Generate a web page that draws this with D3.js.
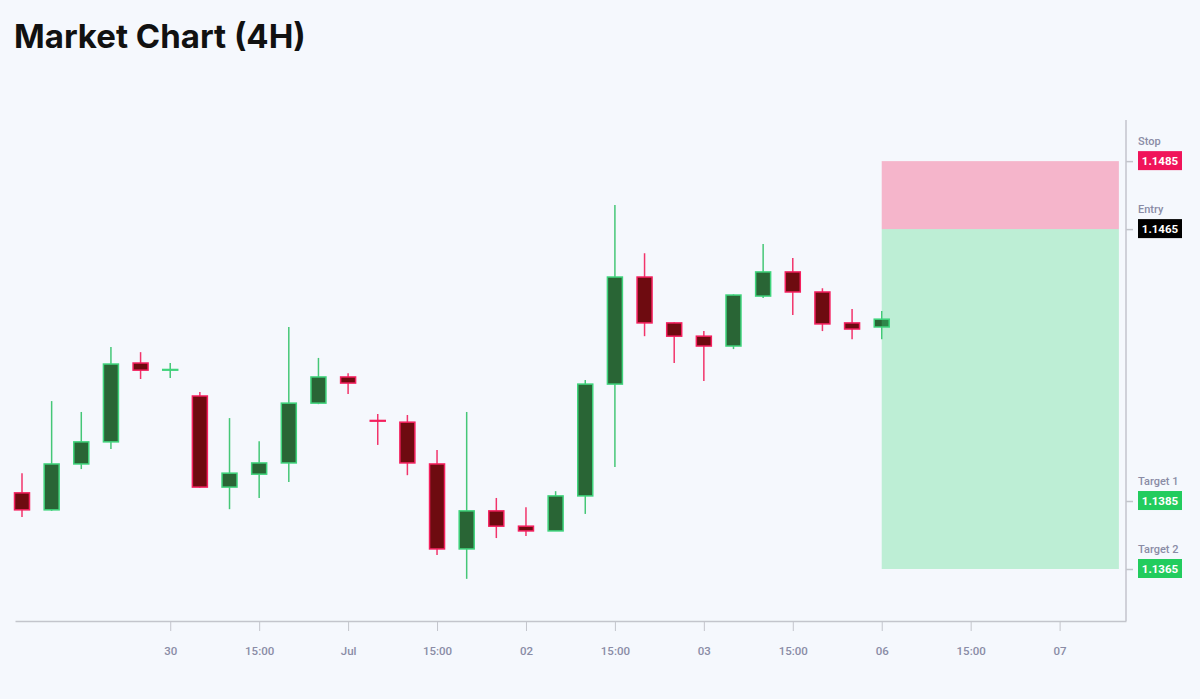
<!DOCTYPE html>
<html lang="en">
<head>
<meta charset="UTF-8">
<title>Market Chart (4H)</title>
<script src="https://cdnjs.cloudflare.com/ajax/libs/d3/7.8.5/d3.min.js"></script>
<style>
  html, body { margin: 0; padding: 0; background: #f5f8fd; }
  svg { display: block; font-family: Roboto, "Open Sans", sans-serif; }
</style>
</head>
<body>
<svg id="chart" width="1200" height="699"></svg>
<script>
// 4H candles, one per slot (weekend gap removed)
const opens  = [1.13874, 1.13824, 1.13959, 1.14024, 1.14256, 1.14235, 1.14159, 1.13891, 1.13929, 1.13962,
                1.14138, 1.14215, 1.14087, 1.14082, 1.13959, 1.13709, 1.13821, 1.13776, 1.13762, 1.13865,
                1.14194, 1.14509, 1.14374, 1.14335, 1.14306, 1.14453, 1.14524, 1.14465, 1.14374, 1.14362];
const highs  = [1.13932, 1.14144, 1.14112, 1.14303, 1.14288, 1.14256, 1.14171, 1.14094, 1.14026, 1.14362,
                1.14271, 1.14226, 1.14106, 1.14103, 1.14000, 1.14112, 1.13859, 1.13832, 1.13879, 1.14206,
                1.14721, 1.14579, 1.14376, 1.14350, 1.14458, 1.14606, 1.14565, 1.14476, 1.14415, 1.14409];
const lows   = [1.13803, 1.13821, 1.13944, 1.14003, 1.14209, 1.14212, 1.13889, 1.13826, 1.13859, 1.13906,
                1.14135, 1.14165, 1.14015, 1.13926, 1.13691, 1.13621, 1.13741, 1.13747, 1.13762, 1.13812,
                1.13950, 1.14335, 1.14256, 1.14203, 1.14297, 1.14447, 1.14397, 1.14350, 1.14326, 1.14326];
const closes = [1.13824, 1.13959, 1.14024, 1.14253, 1.14235, 1.14237, 1.13891, 1.13932, 1.13962, 1.14138,
                1.14215, 1.14197, 1.14085, 1.13962, 1.13709, 1.13821, 1.13776, 1.13762, 1.13865, 1.14194,
                1.14509, 1.14374, 1.14335, 1.14306, 1.14456, 1.14524, 1.14465, 1.14371, 1.14356, 1.14385];

// time axis labels, placed on bar slots
const tickSlots  = [5, 8, 11, 14, 17, 20, 23, 26, 29, 32, 35];
const tickLabels = ["30", "15:00", "Jul", "15:00", "02", "15:00", "03", "15:00", "06", "15:00", "07"];

// trade setup
const levelNames  = ["Stop", "Entry", "Target 1", "Target 2"];
const levelPrices = [1.1485, 1.1465, 1.1385, 1.1365];
const levelColors = ["#f0145a", "#000000", "#22cc5e", "#22cc5e"];
const zoneSlots = [29, 37];

const svg = d3.select("#chart");
const plotL = 15, plotR = 1126, plotT = 120, plotB = 621;

const x = d3.scaleLinear().domain([-0.236, 37.24]).range([plotL, plotR]);
const y = d3.scaleLinear().domain([1.13497, 1.14971]).range([plotB, plotT]);

svg.append("text")
  .attr("x", 14).attr("y", 48)
  .attr("font-family", "Inter, Roboto, sans-serif")
  .attr("font-size", 33).attr("font-weight", 700)
  .attr("fill", "#111")
  .text("Market Chart (4H)");

// candles
const candles = opens.map((o, i) => ({ i, o, h: highs[i], l: lows[i], c: closes[i] }));
const g = svg.append("g");
const bw = 15;
const cg = g.selectAll("g.candle").data(candles).join("g").attr("class", "candle");
cg.append("line")
  .attr("x1", d => x(d.i)).attr("x2", d => x(d.i))
  .attr("y1", d => y(d.h)).attr("y2", d => y(d.l))
  .attr("stroke", d => d.c >= d.o ? "#45c777" : "#f2346b")
  .attr("stroke-width", 1.5);
cg.append("rect")
  .attr("x", d => x(d.i) - bw / 2)
  .attr("width", bw)
  .attr("y", d => y(Math.max(d.o, d.c)))
  .attr("height", d => Math.max(0.5, Math.abs(y(d.o) - y(d.c))))
  .attr("fill", d => d.c >= d.o ? "#296535" : "#6e0b10")
  .attr("stroke", d => d.c >= d.o ? "#3fd47c" : "#f5205f")
  .attr("stroke-width", 1.5);

// risk / reward zones
svg.append("rect")
  .attr("x", x(zoneSlots[0])).attr("width", x(zoneSlots[1]) - x(zoneSlots[0]))
  .attr("y", y(levelPrices[0])).attr("height", y(levelPrices[1]) - y(levelPrices[0]))
  .attr("fill", "rgb(245,25,90)").attr("fill-opacity", 0.3);
svg.append("rect")
  .attr("x", x(zoneSlots[0])).attr("width", x(zoneSlots[1]) - x(zoneSlots[0]))
  .attr("y", y(levelPrices[1])).attr("height", y(levelPrices[3]) - y(levelPrices[1]))
  .attr("fill", "rgb(58,215,123)").attr("fill-opacity", 0.3);

// bottom axis
const xAxis = d3.axisBottom(x)
  .tickValues(tickSlots)
  .tickFormat((d, k) => tickLabels[k])
  .tickSizeInner(10).tickSizeOuter(0).tickPadding(16);
const xa = svg.append("g").attr("transform", `translate(0,${plotB})`).call(xAxis);
xa.select(".domain").attr("stroke", "#c3c5cc").attr("stroke-width", 1.5);
xa.selectAll(".tick line").attr("stroke", "#c3c5cc");
xa.selectAll(".tick text").attr("fill", "#8a8ca6").attr("font-size", 11.5).attr("font-weight", 500)
  .attr("font-family", "Roboto, sans-serif");

// right axis with level badges
const yAxis = d3.axisRight(y).tickValues(levelPrices).tickSize(7).tickFormat("");
const ya = svg.append("g").attr("transform", `translate(${plotR},0)`).call(yAxis);
ya.select(".domain").attr("d", `M0,${plotT}V${plotB}`).attr("stroke", "#c3c5cc").attr("stroke-width", 1.5);
ya.selectAll(".tick line").attr("stroke", "#c3c5cc").attr("stroke-width", 1.5);

const lv = svg.append("g").selectAll("g").data(levelPrices).join("g")
  .attr("transform", d => `translate(${plotR + 12},${y(d)})`);
lv.append("text")
  .attr("y", -16)
  .attr("font-size", 11).attr("font-weight", 500).attr("fill", "#8a8ca6")
  .text((d, k) => levelNames[k]);
lv.append("rect")
  .attr("x", 0).attr("y", -10).attr("width", 44).attr("height", 19)
  .attr("fill", (d, k) => levelColors[k]);
lv.append("text")
  .attr("x", 22).attr("y", 4.2)
  .attr("text-anchor", "middle")
  .attr("font-size", 11.5).attr("font-weight", 700).attr("fill", "#fff")
  .text(d => d3.format(".4f")(d));
</script>
</body>
</html>
